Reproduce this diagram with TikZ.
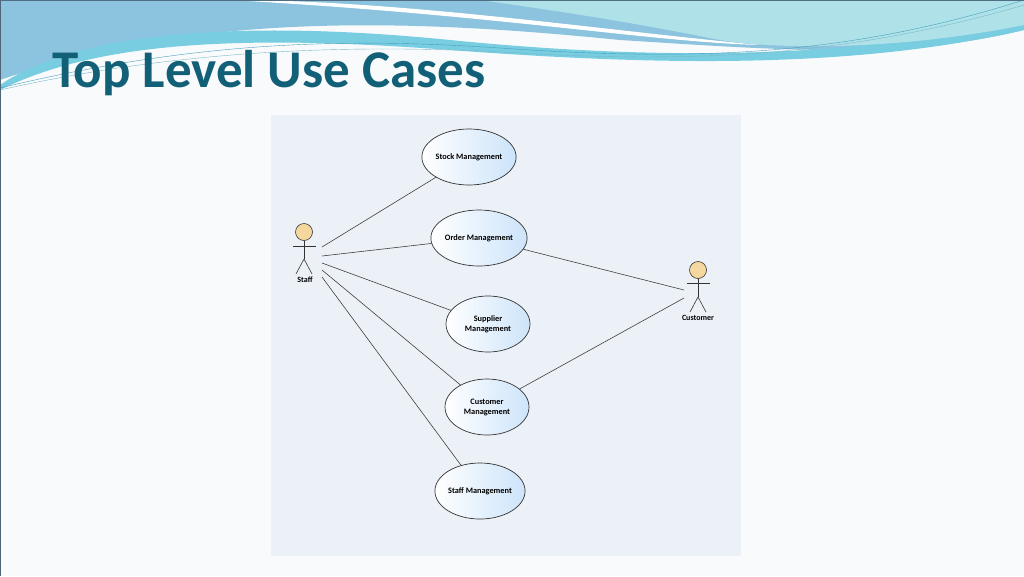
\documentclass[tikz,border=0pt]{standalone}
\usepackage{fontspec}
\setmainfont{Carlito}
\usetikzlibrary{shapes.geometric}
\definecolor{titlec}{RGB}{18,96,120}
\definecolor{panel}{RGB}{236,241,248}
\definecolor{ufill}{RGB}{205,228,250}
\definecolor{head}{RGB}{245,215,160}
\tikzset{
 uc/.style={ellipse,draw=black!80,line width=0.7pt,left color=white,right color=ufill,minimum width=84pt,minimum height=56pt,inner sep=0pt,align=center,font=\fontsize{8.3}{10}\selectfont},
 assoc/.style={draw=black!75,line width=0.6pt},
 actorline/.style={draw=black!80,line width=0.6pt},
 lbl/.style={font=\fontsize{8}{9}\selectfont\bfseries,inner sep=1pt}
}
\begin{document}
\begin{tikzpicture}[x=1pt,y=-1pt]
\useasboundingbox (0,0) rectangle (1024,576);
\fill[color={rgb,255:red,249;green,250;blue,251}] (0,0) rectangle (1024,576);
% header waves
\fill[color={rgb,255:red,140;green,195;blue,222}] (0,0) -- (1024,0) -- (1024,30) .. controls (900,60) and (780,50) .. (620,40) .. controls (420,20) and (200,10) .. (0,80) -- cycle;
\fill[color={rgb,255:red,120;green,205;blue,225}] (0,85) .. controls (80,30) and (250,20) .. (450,40) .. controls (650,60) and (850,60) .. (1024,20) -- (1024,30) .. controls (850,70) and (650,65) .. (450,50) .. controls (250,35) and (100,40) .. (0,90) -- cycle;
\fill[color={rgb,255:red,175;green,225;blue,232}] (480,0) -- (1024,0) -- (1024,25) .. controls (900,50) and (780,50) .. (720,40) .. controls (620,20) and (550,10) .. (480,0) -- cycle;
\fill[white] (230,0) .. controls (400,0) and (600,30) .. (760,45) .. controls (650,42) and (500,15) .. (230,0) -- cycle;
\draw[color={rgb,255:red,70;green,160;blue,190},line width=0.4pt] (0,88) .. controls (200,40) and (350,38) .. (500,48) .. controls (700,62) and (850,55) .. (1024,0);
\draw[color={rgb,255:red,120;green,185;blue,200},line width=0.4pt] (0,90) .. controls (200,45) and (380,45) .. (520,53) .. controls (720,65) and (870,50) .. (1024,5);
\draw[color={rgb,255:red,80;green,100;blue,120},line width=0.6pt] (0.3,0) -- (0.3,576);
\draw[color={rgb,255:red,80;green,110;blue,130},line width=1pt] (0,0.5) -- (1024,0.5);
\node[anchor=base west,text=titlec,font=\fontsize{53}{56}\selectfont\bfseries,inner sep=0pt] (title) at (52,87) {Top Level Use Cases};
% panel
\fill[panel] (271,115) rectangle (741,556);
% use cases
\node[uc] (stock) at (469,157) {\textbf{Stock Management}};
\node[uc] (order) at (479,238) {\textbf{Order Management}};
\node[uc] (supp) at (488,324) {\textbf{Supplier}\\\textbf{Management}};
\node[uc] (cust) at (487,407) {\textbf{Customer}\\\textbf{Management}};
\node[uc] (staffm) at (480,491) {\textbf{Staff Management}};
% staff actor
\node[circle,draw=black!80,fill=head,minimum size=17pt,inner sep=0pt,line width=0.6pt] (sh) at (304,232) {};
\draw[actorline] (sh.south) -- (304,259) coordinate (sb);
\draw[actorline] (293,246) -- (316,246);
\draw[actorline] (sb) -- (296,274); \draw[actorline] (sb) -- (312,274);
\node[lbl] (stafflbl) at (305,280) {Staff};
\coordinate (s1) at (322,247); \coordinate (s2) at (322,256); \coordinate (s3) at (322,263);
\coordinate (s4) at (322,270); \coordinate (s5) at (322,277);
% customer actor
\node[circle,draw=black!80,fill=head,minimum size=17pt,inner sep=0pt,line width=0.6pt] (ch) at (698,270) {};
\draw[actorline] (ch.south) -- (698,297) coordinate (cb);
\draw[actorline] (687,283) -- (710,283);
\draw[actorline] (cb) -- (690,312); \draw[actorline] (cb) -- (706,312);
\node[lbl] (custlbl) at (698,318) {Customer};
\coordinate (c1) at (684,290); \coordinate (c2) at (684,298);
% associations
\draw[assoc] (s1) -- (stock);
\draw[assoc] (s2) -- (order);
\draw[assoc] (s3) -- (supp);
\draw[assoc] (s4) -- (cust);
\draw[assoc] (s5) -- (staffm);
\draw[assoc] (c1) -- (order);
\draw[assoc] (c2) -- (cust);
\end{tikzpicture}
\end{document}
